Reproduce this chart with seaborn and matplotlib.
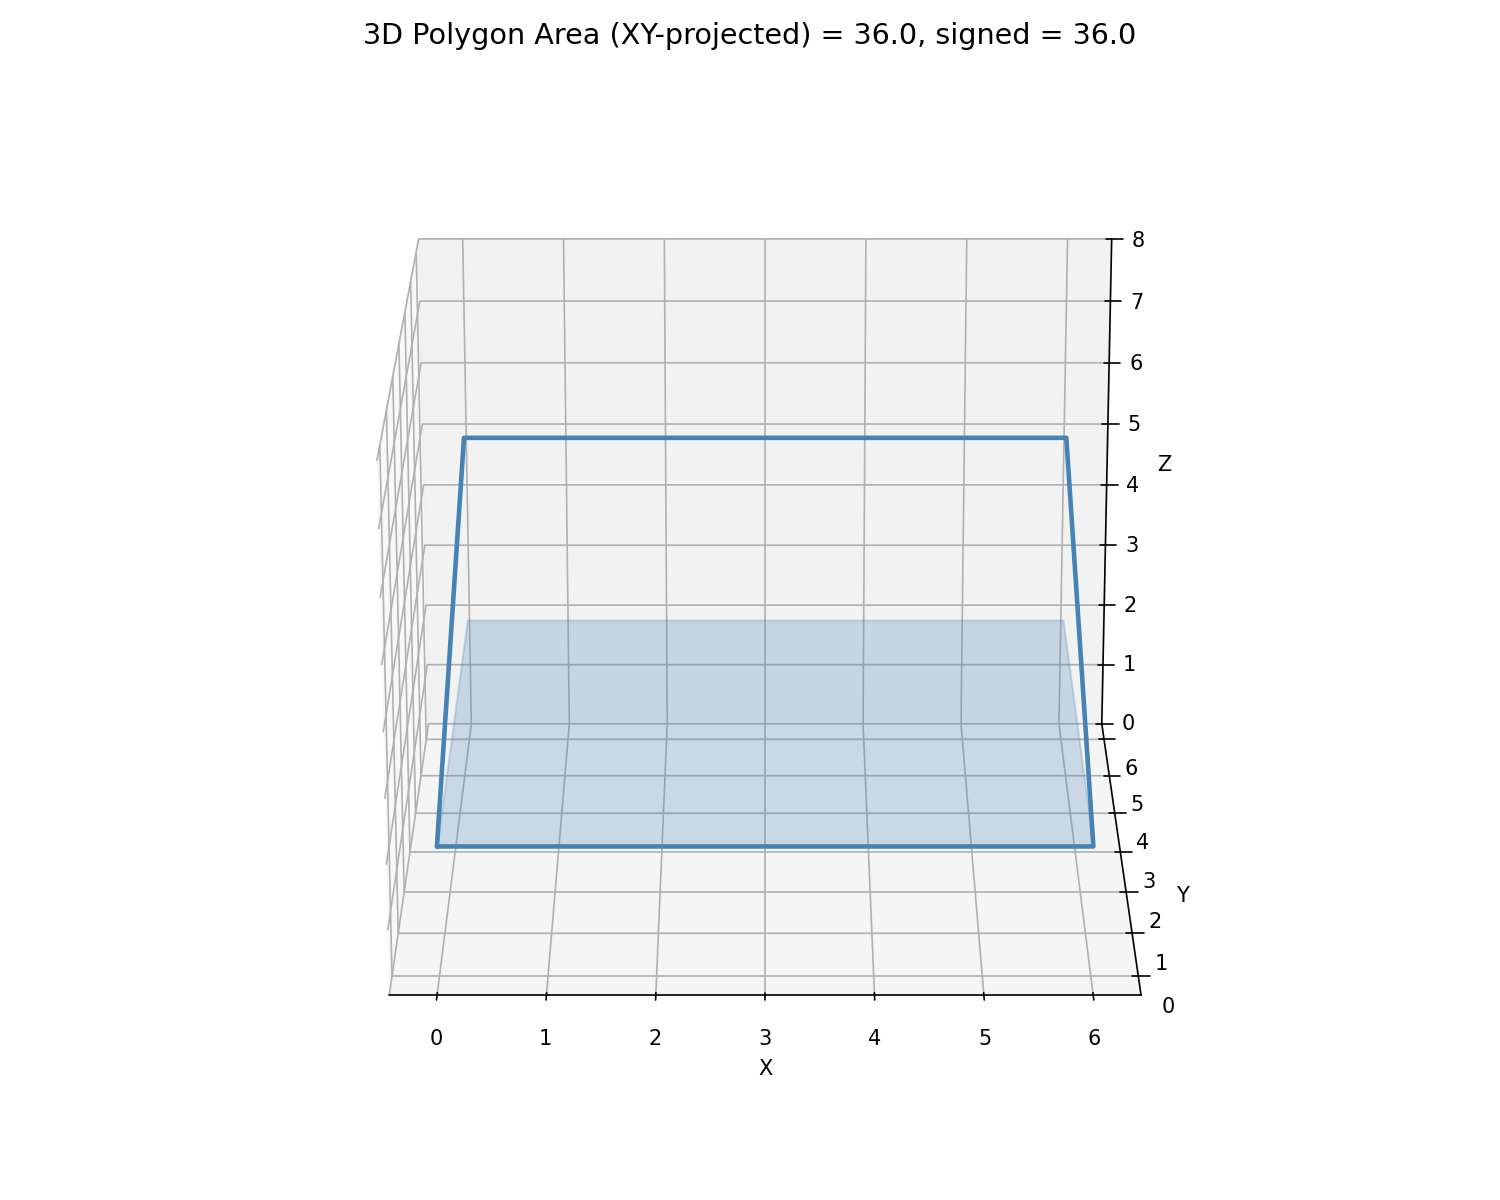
import matplotlib
matplotlib.use("Agg")
import matplotlib.pyplot as plt
import seaborn as sns
from mpl_toolkits.mplot3d.art3d import Poly3DCollection

poly_x = [0, 6, 6, 0]
poly_y = [0, 0, 6, 6]
poly_z = [2, 2, 5, 5]
fill_z = [2, 2, 2, 2]

title = "3D Polygon Area (XY-projected) = 36.0, signed = 36.0"
line_color = "steelblue"

sns.set_theme(style="white", font="DejaVu Sans", rc={
    "text.color": "black", "axes.labelcolor": "black", "xtick.color": "black",
    "ytick.color": "black", "axes.edgecolor": "black", "grid.color": "#b0b0b0",
    "font.size": 10, "axes.labelsize": 10, "xtick.labelsize": 10, "ytick.labelsize": 10,
    "axes.titlesize": 13.75, "axes.linewidth": 0.8, "grid.linewidth": 0.8,
    "xtick.major.width": 0.8, "ytick.major.width": 0.8,
})

fig = plt.figure(figsize=(10, 8), dpi=150)
ax = fig.add_subplot(111, projection="3d")
ax.set_position([0.01, 0.019, 0.98, 0.934])

ax.plot(poly_x + poly_x[:1], poly_y + poly_y[:1], poly_z + poly_z[:1], color=line_color, linewidth=2.2)
verts = [list(zip(poly_x, poly_y, fill_z))]
ax.add_collection3d(Poly3DCollection(verts, facecolor=line_color, alpha=0.25, edgecolor=line_color))

ax.set_zlim(0, 8, view_margin=0)
ax.set_xlabel("X")
ax.set_ylabel("Y")
ax.set_zlabel("Z")
ax.set_title(title)
ax.view_init(elev=20, azim=-90)

fig.savefig("out.png")
